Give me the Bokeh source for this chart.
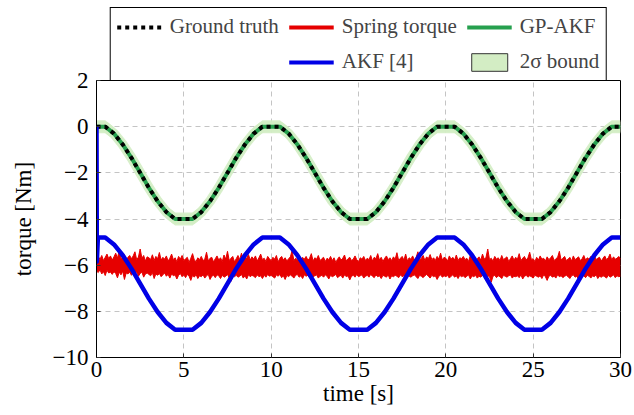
import numpy as np
from bokeh.plotting import figure
from bokeh.layouts import column
from bokeh.models import Range1d, FixedTicker, Legend, LegendItem
from bokeh.embed import file_html
from bokeh.resources import INLINE

# ---------------- data ----------------
x_ticks = [0, 5, 10, 15, 20, 25, 30]
y_ticks = [-10, -8, -6, -4, -2, 0, 2]
y_tick_labels = ["\u221210", "\u22128", "\u22126", "\u22124", "\u22122", "0", "2"]

# time grid, 0.5 s
time_coarse = np.arange(0, 30.0001, 0.5)

ground_truth = [
    0.0, 0.0, -0.30, -0.77, -1.35, -2.0, -2.65, -3.23, -3.70, -4.0,
    -4.0, -4.0, -3.70, -3.23, -2.65, -2.0, -1.35, -0.77, -0.30, 0.0,
    0.0, 0.0, -0.30, -0.77, -1.35, -2.0, -2.65, -3.23, -3.70, -4.0,
    -4.0, -4.0, -3.70, -3.23, -2.65, -2.0, -1.35, -0.77, -0.30, 0.0,
    0.0, 0.0, -0.30, -0.77, -1.35, -2.0, -2.65, -3.23, -3.70, -4.0,
    -4.0, -4.0, -3.70, -3.23, -2.65, -2.0, -1.35, -0.77, -0.30, 0.0,
    0.0,
]

gp_akf = [
    0.0, 0.0, -0.30, -0.77, -1.35, -2.0, -2.65, -3.23, -3.70, -4.0,
    -4.0, -4.0, -3.70, -3.23, -2.65, -2.0, -1.35, -0.77, -0.30, 0.0,
    0.0, 0.0, -0.30, -0.77, -1.35, -2.0, -2.65, -3.23, -3.70, -4.0,
    -4.0, -4.0, -3.70, -3.23, -2.65, -2.0, -1.35, -0.77, -0.30, 0.0,
    0.0, 0.0, -0.30, -0.77, -1.35, -2.0, -2.65, -3.23, -3.70, -4.0,
    -4.0, -4.0, -3.70, -3.23, -2.65, -2.0, -1.35, -0.77, -0.30, 0.0,
    0.0,
]

two_sigma = [0.28] * 61

# AKF [4]: initial transient then the estimate (t = 0.5 ... 30 on the 0.5 s grid)
akf_start_time = [0.0, 0.02, 0.08]
akf_start_vals = [0.0, -5.85, -4.8]
akf_vals = [
    -4.8, -5.10, -5.57, -6.15, -6.8, -7.45, -8.03, -8.50, -8.8,
    -8.8, -8.8, -8.50, -8.03, -7.45, -6.8, -6.15, -5.57, -5.10, -4.8,
    -4.8, -4.8, -5.10, -5.57, -6.15, -6.8, -7.45, -8.03, -8.50, -8.8,
    -8.8, -8.8, -8.50, -8.03, -7.45, -6.8, -6.15, -5.57, -5.10, -4.8,
    -4.8, -4.8, -5.10, -5.57, -6.15, -6.8, -7.45, -8.03, -8.50, -8.8,
    -8.8, -8.8, -8.50, -8.03, -7.45, -6.8, -6.15, -5.57, -5.10, -4.8,
    -4.8,
]

# Spring torque: noisy signal, upper / lower envelope on a 0.1 s grid
time_fine = np.arange(0, 30.0001, 0.1)
spring_upper = [
    -5.70, -5.62, -5.75, -5.58, -5.80, -5.66, -5.52, -5.72, -5.60, -5.78,
    -5.64, -5.48, -5.70, -5.35, -5.74, -5.62, -5.55, -5.80, -5.66, -5.58,
    -5.72, -5.60, -5.42, -5.76, -5.65, -5.30, -5.70, -5.58, -5.82, -5.64,
    -5.68, -5.75, -5.55, -5.80, -5.62, -5.72, -5.45, -5.78, -5.66, -5.74,
    -5.60, -5.82, -5.70, -5.52, -5.76, -5.68, -5.85, -5.62, -5.74, -5.58,
    -5.80, -5.72, -5.66, -5.88, -5.70, -5.50, -5.78, -5.84, -5.68, -5.76,
    -5.62, -5.80, -5.74, -5.44, -5.82, -5.70, -5.66, -5.86, -5.72, -5.60,
    -5.78, -5.68, -5.84, -5.56, -5.74, -5.40, -5.80, -5.70, -5.62, -5.86,
    -5.72, -5.58, -5.76, -5.48, -5.82, -5.66, -5.70, -5.54, -5.78, -5.64,
    -5.74, -5.60, -5.82, -5.68, -5.52, -5.76, -5.70, -5.84, -5.62, -5.72,
    -5.80, -5.66, -5.74, -5.58, -5.86, -5.70, -5.62, -5.78, -5.68, -5.82,
    -5.72, -5.64, -5.36, -5.80, -5.70, -5.76, -5.60, -5.84, -5.66, -5.74,
    -5.62, -5.78, -5.70, -5.50, -5.82, -5.68, -5.74, -5.58, -5.80, -5.72,
    -5.66, -5.84, -5.70, -5.76, -5.62, -5.80, -5.68, -5.88, -5.74, -5.64,
    -5.78, -5.70, -5.56, -5.82, -5.72, -5.66, -5.80, -5.74, -5.60, -5.76,
    -5.84, -5.68, -5.74, -5.62, -5.80, -5.70, -5.76, -5.58, -5.82, -5.66,
    -5.72, -5.50, -5.78, -5.66, -5.84, -5.70, -5.60, -5.76, -5.68, -5.80,
    -5.64, -5.74, -5.46, -5.80, -5.70, -5.62, -5.78, -5.52, -5.82, -5.68,
    -5.74, -5.60, -5.78, -5.66, -5.42, -5.76, -5.70, -5.58, -5.80, -5.64,
    -5.72, -5.54, -5.76, -5.68, -5.80, -5.62, -5.74, -5.48, -5.78, -5.66,
    -5.70, -5.82, -5.60, -5.74, -5.66, -5.78, -5.56, -5.80, -5.68, -5.72,
    -5.62, -5.76, -5.70, -5.84, -5.58, -5.74, -5.66, -5.80, -5.72, -5.64,
    -5.78, -5.52, -5.74, -5.66, -5.30, -5.76, -5.70, -5.82, -5.62, -5.74,
    -5.68, -5.80, -5.58, -5.76, -5.70, -5.64, -5.84, -5.72, -5.60, -5.78,
    -5.66, -5.74, -5.50, -5.80, -5.70, -5.62, -5.78, -5.68, -5.44, -5.76,
    -5.72, -5.84, -5.66, -5.78, -5.60, -5.74, -5.70, -5.82, -5.64, -5.76,
    -5.68, -5.58, -5.80, -5.72, -5.66, -5.40, -5.78, -5.70, -5.62, -5.80,
    -5.74, -5.66, -5.82, -5.60, -5.76, -5.70, -5.64, -5.80, -5.72, -5.58,
    -5.78, -5.68, -5.74, -5.62, -5.80, -5.56, -5.76, -5.70, -5.66, -5.82,
    -5.70, -5.60, -5.76, -5.68, -5.52, -5.78, -5.64, -5.74, -5.70, -5.62,
    -5.72,
]
spring_lower = [
    -6.25, -6.32, -6.20, -6.38, -6.28, -6.45, -6.22, -6.34, -6.30, -6.40,
    -6.28, -6.36, -6.55, -6.30, -6.42, -6.26, -6.62, -6.34, -6.38, -6.30,
    -6.44, -6.32, -6.40, -6.28, -6.48, -6.36, -6.30, -6.52, -6.38, -6.34,
    -6.40, -6.46, -6.32, -6.58, -6.38, -6.44, -6.36, -6.50, -6.42, -6.34,
    -6.48, -6.40, -6.56, -6.38, -6.46, -6.42, -6.60, -6.44, -6.36, -6.50,
    -6.42, -6.54, -6.40, -6.48, -6.66, -6.44, -6.52, -6.40, -6.58, -6.46,
    -6.50, -6.42, -6.56, -6.46, -6.40, -6.62, -6.48, -6.44, -6.54, -6.42,
    -6.46, -6.58, -6.44, -6.52, -6.48, -6.40, -6.56, -6.70, -6.46, -6.50,
    -6.44, -6.52, -6.48, -6.40, -6.56, -6.46, -6.60, -6.42, -6.50, -6.44,
    -6.48, -6.54, -6.42, -6.50, -6.46, -6.58, -6.44, -6.52, -6.40, -6.48,
    -6.44, -6.50, -6.56, -6.42, -6.48, -6.40, -6.54, -6.46, -6.62, -6.44,
    -6.50, -6.42, -6.48, -6.56, -6.44, -6.40, -6.52, -6.46, -6.58, -6.42,
    -6.48, -6.44, -6.54, -6.40, -6.50, -6.46, -6.42, -6.56, -6.48, -6.44,
    -6.52, -6.42, -6.48, -6.60, -6.44, -6.50, -6.46, -6.40, -6.54, -6.48,
    -6.44, -6.56, -6.42, -6.50, -6.46, -6.64, -6.48, -6.44, -6.52, -6.40,
    -6.50, -6.46, -6.42, -6.56, -6.48, -6.44, -6.52, -6.40, -6.48, -6.54,
    -6.42, -6.50, -6.46, -6.58, -6.44, -6.48, -6.52, -6.42, -6.60, -6.46,
    -6.50, -6.44, -6.48, -6.54, -6.42, -6.50, -6.46, -6.56, -6.44, -6.48,
    -6.52, -6.46, -6.42, -6.50, -6.58, -6.44, -6.48, -6.54, -6.46, -6.40,
    -6.48, -6.56, -6.44, -6.50, -6.46, -6.62, -6.48, -6.42, -6.52, -6.46,
    -6.50, -6.44, -6.56, -6.48, -6.42, -6.52, -6.46, -6.58, -6.44, -6.50,
    -6.46, -6.54, -6.48, -6.42, -6.60, -6.46, -6.50, -6.44, -6.56, -6.48,
    -6.52, -6.44, -6.48, -6.56, -6.46, -6.50, -6.74, -6.48, -6.44, -6.54,
    -6.46, -6.50, -6.58, -6.44, -6.48, -6.52, -6.46, -6.42, -6.56, -6.48,
    -6.50, -6.46, -6.54, -6.42, -6.60, -6.48, -6.44, -6.52, -6.46, -6.50,
    -6.56, -6.44, -6.48, -6.52, -6.46, -6.58, -6.42, -6.50, -6.66, -6.48,
    -6.44, -6.52, -6.48, -6.56, -6.42, -6.50, -6.46, -6.54, -6.48, -6.44,
    -6.50, -6.58, -6.46, -6.42, -6.52, -6.48, -6.62, -6.44, -6.50, -6.46,
    -6.54, -6.44, -6.48, -6.56, -6.46, -6.50, -6.42, -6.58, -6.48, -6.52,
    -6.46, -6.50, -6.56, -6.44, -6.52, -6.48, -6.42, -6.54, -6.46, -6.50,
    -6.48,
]

# ---------------- styling ----------------
FONT = "'Liberation Serif', serif"
RED = "#e60000"
BLUE = "#0000e6"
GREEN = "#26a04e"
BAND = "#d3edc4"
GRID = "#c4c4c4"

gt_arr = np.array(ground_truth)
gp_arr = np.array(gp_akf)
sig = np.array(two_sigma)
akf_t = list(akf_start_time) + list(time_coarse[1:])
akf_v = list(akf_start_vals) + list(akf_vals)

# ---------- main chart (overlaps the legend strip, transparent border) ----------
p = figure(width=634, height=347, output_backend="svg", toolbar_location=None,
           x_range=Range1d(0, 30), y_range=Range1d(-10, 2),
           min_border_left=96, min_border_right=14, min_border_top=13,
           min_border_bottom=57, background_fill_color="white",
           border_fill_color=None, margin=(-14, 0, 0, 0))

p.outline_line_color = "black"
p.outline_line_width = 1
p.outline_line_alpha = 1

for ax in (p.xaxis[0], p.yaxis[0]):
    ax.axis_line_color = "black"
    ax.major_tick_line_color = "#333333"
    ax.major_tick_in = 4
    ax.major_tick_out = 0
    ax.minor_tick_line_color = None
    ax.major_label_text_font = FONT
    ax.major_label_text_font_size = "23px"
    ax.major_label_text_color = "black"
    ax.axis_label_text_font = FONT
    ax.axis_label_text_font_size = "23px"
    ax.axis_label_text_font_style = "normal"
    ax.axis_label_text_color = "black"

p.xaxis.ticker = FixedTicker(ticks=x_ticks)
p.yaxis.ticker = FixedTicker(ticks=y_ticks)
p.yaxis.major_label_overrides = {t: l for t, l in zip(y_ticks, y_tick_labels)}
p.xaxis.axis_label = "time [s]"
p.yaxis.axis_label = "torque [Nm]"
p.xaxis.major_label_standoff = 4
p.xaxis.axis_label_standoff = 1
p.yaxis.major_label_standoff = 8
p.yaxis.axis_label_standoff = 14

p.xgrid.ticker = FixedTicker(ticks=x_ticks)
p.ygrid.ticker = FixedTicker(ticks=y_ticks)
for g in (p.xgrid[0], p.ygrid[0]):
    g.grid_line_color = GRID
    g.grid_line_dash = "5 4"
    g.grid_line_width = 1

# spring torque (noisy band)
p.varea(x=time_fine, y1=spring_lower, y2=spring_upper, fill_color=RED, fill_alpha=1)
p.line(x=time_fine, y=spring_upper, line_color=RED, line_width=1)
p.line(x=time_fine, y=spring_lower, line_color=RED, line_width=1)

# 2 sigma band
p.varea(x=time_coarse, y1=gp_arr - sig, y2=gp_arr + sig, fill_color=BAND, fill_alpha=0.9)
p.line(x=time_coarse, y=gp_arr, line_color=BAND, line_width=10, line_join="round", line_alpha=0.9)

# GP-AKF
p.line(x=time_coarse, y=gp_arr, line_color=GREEN, line_width=4, line_join="round")
# ground truth
p.line(x=time_coarse, y=gt_arr, line_color="black", line_width=4, line_dash="4 4")
# AKF
p.line(x=akf_t, y=akf_v, line_color=BLUE, line_width=4.5, line_join="round")

# ---------- legend strip (hidden proxies of the same series) ----------
lg = figure(width=634, height=81, output_backend="svg", toolbar_location=None,
            x_range=Range1d(0, 30), y_range=Range1d(-10, 2),
            min_border_left=96, min_border_right=14, min_border_top=0,
            min_border_bottom=0, x_axis_type=None, y_axis_type=None,
            background_fill_color=None, border_fill_color=None)
lg.outline_line_color = None
lg.xgrid.visible = False
lg.ygrid.visible = False

l_gt = lg.line(x=time_coarse, y=gt_arr, line_color="black", line_width=4,
               line_dash="4 4", visible=False)
l_sp = lg.line(x=time_fine, y=spring_upper, line_color=RED, line_width=4, visible=False)
l_gp = lg.line(x=time_coarse, y=gp_arr, line_color=GREEN, line_width=4, visible=False)
l_empty = lg.line(x=time_coarse, y=gt_arr, line_alpha=0, visible=False)
l_akf = lg.line(x=akf_t, y=akf_v, line_color=BLUE, line_width=4, visible=False)
l_band = lg.quad(left=time_coarse[:-1], right=time_coarse[1:],
                 bottom=(gp_arr - sig)[:-1], top=(gp_arr + sig)[:-1],
                 fill_color=BAND, line_color="#333333", line_width=1, visible=False)

legend = Legend(items=[
    LegendItem(label="Ground truth", renderers=[l_gt]),
    LegendItem(label="Spring torque", renderers=[l_sp]),
    LegendItem(label="GP-AKF", renderers=[l_gp]),
    LegendItem(label=" ", renderers=[l_empty]),
    LegendItem(label="AKF [4]", renderers=[l_akf]),
    LegendItem(label="2\u03c3 bound", renderers=[l_band]),
], orientation="horizontal", ncols=3, location="top_center")
legend.label_text_font = FONT
legend.label_text_font_size = "21px"
legend.label_standoff = 8
legend.glyph_width = 45
legend.glyph_height = 22
legend.label_height = 24
legend.spacing = 10
legend.padding = 6
legend.margin = 7
legend.border_line_color = "black"
legend.border_line_width = 1
legend.border_line_alpha = 1
legend.background_fill_color = "white"
legend.background_fill_alpha = 1
lg.add_layout(legend)

layout = column(lg, p, spacing=0)
open("out.html", "w").write(file_html(layout, INLINE))
